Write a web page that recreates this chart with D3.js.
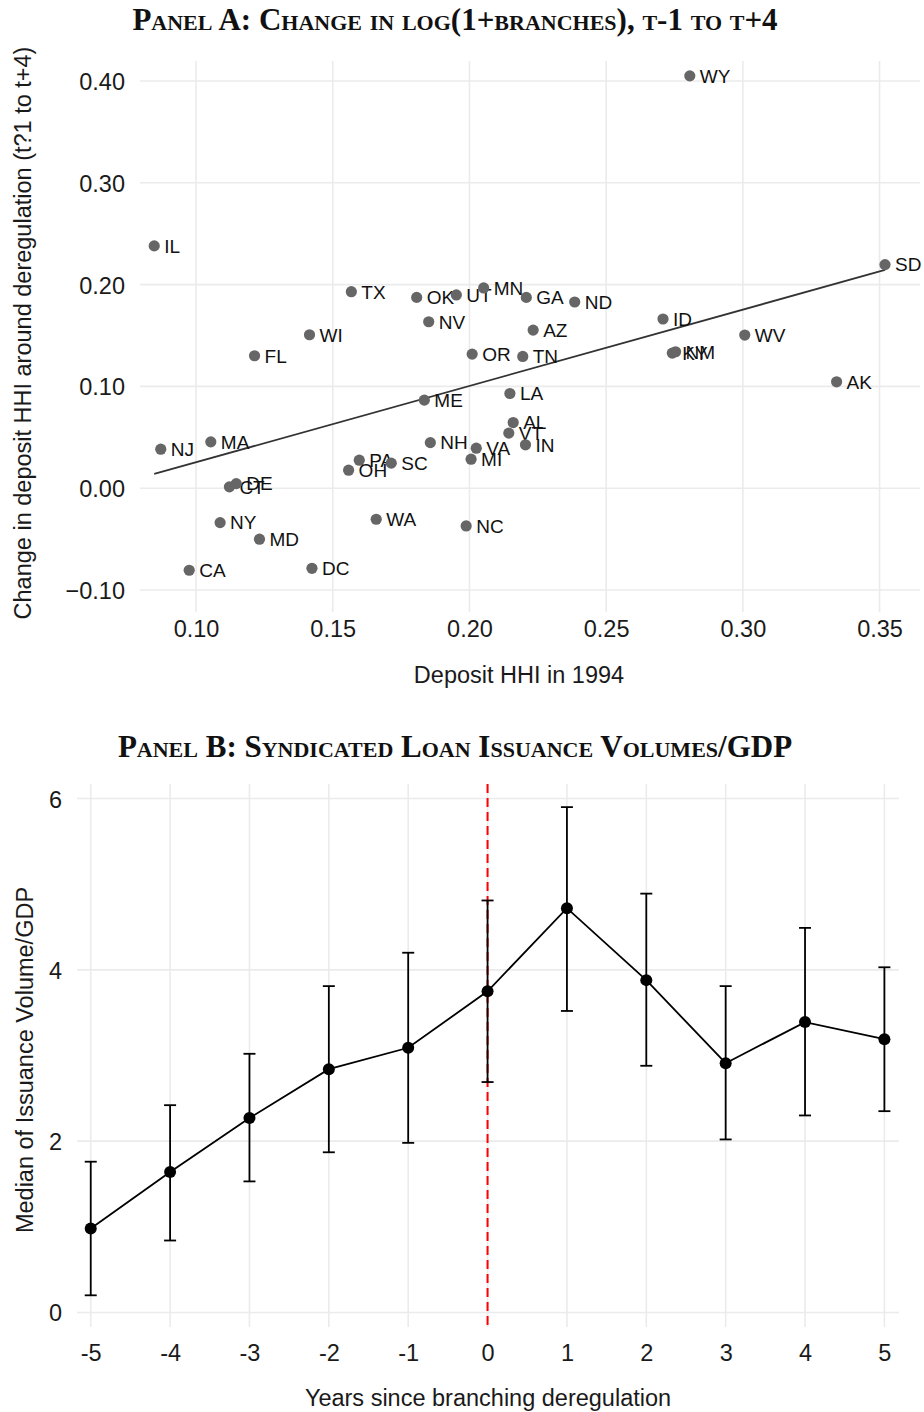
<!DOCTYPE html>
<html>
<head>
<meta charset="utf-8">
<script src="https://cdn.jsdelivr.net/npm/d3@7/dist/d3.min.js"></script>
<style>
  body { margin: 0; background: #fff; }
  .grid line { stroke: #ebebeb; stroke-width: 1.6; }
  .tick text, .label { font-family: 'Liberation Sans', Arial, sans-serif; fill: #1a1a1a; }
  .ptitle { font-family: 'Liberation Serif', 'DejaVu Serif', serif; font-weight: bold; font-variant: small-caps; fill: #111; }
  .state { font-family: 'Liberation Sans', Arial, sans-serif; font-size: 19px; fill: #111; }
</style>
</head>
<body>
<div id="chart"></div>
<script>
// panel A - state scatter
var states = ['WY','IL','SD','TX','OK','UT','MN','GA','ND','NV','AZ','WI','FL','OR','TN','ME','LA','AL','VT','IN','NH','VA','MI','NJ','MA','PA','SC','OH','CT','DE','NY','MD','WA','NC','CA','DC','ID','KY','NM','WV','AK']
var hhi1994 = [0.2806,0.0847,0.3520,0.1568,0.1807,0.1952,0.2052,0.2208,0.2385,0.1851,0.2233,0.1415,0.1214,0.2010,0.2195,0.1835,0.2148,0.2160,0.2144,0.2205,0.1857,0.2025,0.2006,0.0871,0.1054,0.1597,0.1714,0.1558,0.1122,0.1147,0.1088,0.1232,0.1659,0.1988,0.0975,0.1424,0.2708,0.2742,0.2754,0.3007,0.3343]
var hhiChange = [0.405,0.238,0.2196,0.193,0.1874,0.1898,0.1967,0.1874,0.1829,0.1635,0.1553,0.1507,0.1301,0.1317,0.1294,0.0865,0.0930,0.0645,0.0541,0.0426,0.0448,0.0393,0.0285,0.0383,0.0455,0.0275,0.0246,0.0177,0.0013,0.0045,-0.0338,-0.0501,-0.0305,-0.0371,-0.0806,-0.0787,0.1662,0.1327,0.1340,0.1504,0.1045]
var xTicksA = [0.10,0.15,0.20,0.25,0.30,0.35]
var yTicksA = [-0.10,0.00,0.10,0.20,0.30,0.40]

// panel B - event study
var years = [-5,-4,-3,-2,-1,0,1,2,3,4,5]
var medianVol = [0.98,1.64,2.27,2.84,3.09,3.75,4.72,3.88,2.91,3.39,3.19]
var ciLow = [0.20,0.84,1.53,1.87,1.98,2.69,3.52,2.88,2.02,2.30,2.35]
var ciHigh = [1.76,2.42,3.02,3.81,4.20,4.81,5.90,4.89,3.81,4.49,4.03]
var yTicksB = [0,2,4,6]

var titleA = 'Panel A: Change in log(1+branches), t-1 to t+4'
var titleB = 'Panel B: Syndicated Loan Issuance Volumes/GDP'

var axisFont = '23.5px'

var svg = d3.select('#chart').append('svg')
    .attr('width', 924)
    .attr('height', 1412);

function DrawPanelA() {
    var x = d3.scaleLinear().domain([0.0795, 0.3648]).range([140, 920]);
    var y = d3.scaleLinear().domain([-0.1216, 0.4196]).range([612, 61]);

    svg.append('text').attr('class','ptitle')
        .attr('x', 455).attr('y', 30)
        .attr('text-anchor','middle')
        .style('font-size','31px')
        .text(titleA);

    var grid = svg.append('g').attr('class','grid');
    grid.selectAll('.gx').data(xTicksA).enter().append('line')
        .attr('x1', d => x(d)).attr('x2', d => x(d))
        .attr('y1', 61).attr('y2', 612);
    grid.selectAll('.gy').data(yTicksA).enter().append('line')
        .attr('x1', 140).attr('x2', 920)
        .attr('y1', d => y(d)).attr('y2', d => y(d));

    var xAxis = d3.axisBottom(x).tickValues(xTicksA).tickSize(0).tickPadding(0).tickFormat(d3.format('.2f'));
    svg.append('g')
        .attr('transform','translate(0,637)')
        .call(xAxis)
        .call(g => g.select('.domain').remove())
        .selectAll('text').style('font-size',axisFont).attr('dy', 0);

    var yAxis = d3.axisLeft(y).tickValues(yTicksA).tickSize(0).tickPadding(0)
        .tickFormat(d => d3.format('.2f')(d).replace('-', '\u2212'));
    svg.append('g')
        .attr('transform','translate(125,0)')
        .call(yAxis)
        .call(g => g.select('.domain').remove())
        .selectAll('text').style('font-size',axisFont).attr('dy','0.36em');

    svg.append('text').attr('class','label')
        .attr('x', 519).attr('y', 683)
        .attr('text-anchor','middle').style('font-size',axisFont)
        .text('Deposit HHI in 1994');
    svg.append('text').attr('class','label')
        .attr('transform','translate(31,333) rotate(-90)')
        .attr('text-anchor','middle').style('font-size',axisFont)
        .text('Change in deposit HHI around deregulation (t?1 to t+4)');

    // fitted line (OLS over the states)
    var mx = d3.mean(hhi1994), my = d3.mean(hhiChange);
    var sxy = d3.sum(hhi1994, (v, i) => (v - mx) * (hhiChange[i] - my));
    var sxx = d3.sum(hhi1994, v => (v - mx) * (v - mx));
    var b = sxy / sxx, a = my - b * mx;
    var ext = d3.extent(hhi1994);
    svg.append('line')
        .attr('x1', x(ext[0])).attr('y1', y(a + b * ext[0]))
        .attr('x2', x(ext[1])).attr('y2', y(a + b * ext[1]))
        .attr('stroke','#333').attr('stroke-width',1.8);

    var pts = svg.append('g').selectAll('g')
        .data(states).enter().append('g')
        .attr('transform', (d, i) => 'translate(' + x(hhi1994[i]) + ',' + y(hhiChange[i]) + ')');
    pts.append('circle').attr('r', 5.6).attr('fill', '#666');
    pts.append('text').attr('class','state')
        .attr('x', 10).attr('dy','0.36em')
        .text(d => d);
}

function DrawPanelB() {
    var x = d3.scaleLinear().domain([-5.173, 5.184]).range([77, 899]);
    var y = d3.scaleLinear().domain([-0.17, 6.17]).range([1327, 784]);

    svg.append('text').attr('class','ptitle')
        .attr('x', 455).attr('y', 757)
        .attr('text-anchor','middle')
        .style('font-size','31px')
        .text(titleB);

    var grid = svg.append('g').attr('class','grid');
    grid.selectAll('.gx').data(years).enter().append('line')
        .attr('x1', d => x(d)).attr('x2', d => x(d))
        .attr('y1', 784).attr('y2', 1327);
    grid.selectAll('.gy').data(yTicksB).enter().append('line')
        .attr('x1', 77).attr('x2', 899)
        .attr('y1', d => y(d)).attr('y2', d => y(d));

    var xAxis = d3.axisBottom(x).tickValues(years).tickSize(0).tickPadding(0).tickFormat(d => d < 0 ? '-' + Math.abs(d) : d);
    svg.append('g')
        .attr('transform','translate(0,1361)')
        .call(xAxis)
        .call(g => g.select('.domain').remove())
        .selectAll('text').style('font-size',axisFont).attr('dy', 0);

    var yAxis = d3.axisLeft(y).tickValues(yTicksB).tickSize(0).tickPadding(0).tickFormat(d3.format('d'));
    svg.append('g')
        .attr('transform','translate(62,0)')
        .call(yAxis)
        .call(g => g.select('.domain').remove())
        .selectAll('text').style('font-size',axisFont).attr('dy','0.36em');

    svg.append('text').attr('class','label')
        .attr('x', 488).attr('y', 1406)
        .attr('text-anchor','middle').style('font-size',axisFont)
        .text('Years since branching deregulation');
    svg.append('text').attr('class','label')
        .attr('transform','translate(33,1060) rotate(-90)')
        .attr('text-anchor','middle').style('font-size',axisFont)
        .text('Median of Issuance Volume/GDP');

    // deregulation year
    svg.append('line')
        .attr('x1', x(0)).attr('x2', x(0))
        .attr('y1', 784).attr('y2', 1327)
        .attr('stroke','#ff0000').attr('stroke-width',2)
        .attr('stroke-dasharray','9,5');

    var bars = svg.append('g').selectAll('g')
        .data(years).enter().append('g')
        .attr('stroke','#000').attr('stroke-width',1.8);
    bars.append('line')
        .attr('x1', d => x(d)).attr('x2', d => x(d))
        .attr('y1', (d, i) => y(ciLow[i])).attr('y2', (d, i) => y(ciHigh[i]));
    bars.append('line')
        .attr('x1', d => x(d) - 6).attr('x2', d => x(d) + 6)
        .attr('y1', (d, i) => y(ciLow[i])).attr('y2', (d, i) => y(ciLow[i]));
    bars.append('line')
        .attr('x1', d => x(d) - 6).attr('x2', d => x(d) + 6)
        .attr('y1', (d, i) => y(ciHigh[i])).attr('y2', (d, i) => y(ciHigh[i]));

    var line = d3.line()
        .x(d => x(d))
        .y((d, i) => y(medianVol[i]));
    svg.append('path')
        .datum(years)
        .attr('d', line)
        .attr('fill','none')
        .attr('stroke','#000')
        .attr('stroke-width',1.8);

    svg.append('g').selectAll('circle')
        .data(years).enter().append('circle')
        .attr('cx', d => x(d))
        .attr('cy', (d, i) => y(medianVol[i]))
        .attr('r', 6)
        .attr('fill','#000');
}

DrawPanelA();
DrawPanelB();
</script>
</body>
</html>
